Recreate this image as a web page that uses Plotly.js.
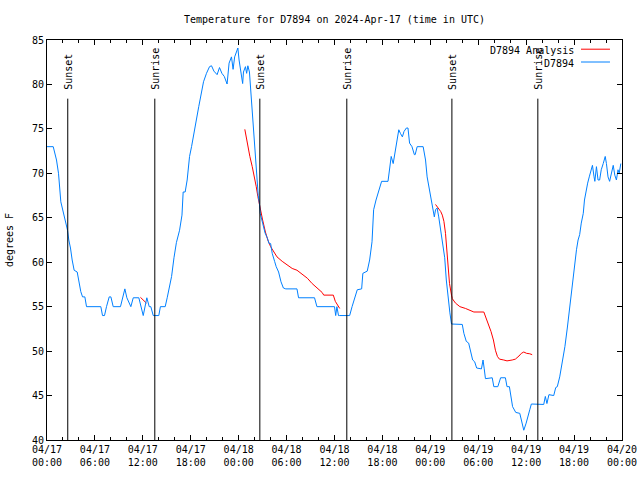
<!DOCTYPE html>
<html>
<head>
<meta charset="utf-8">
<script src="https://cdn.plot.ly/plotly-3.0.1.min.js"></script>
<style>html,body{margin:0;padding:0;background:#fff}</style>
</head>
<body>
<div id="chart" style="width:640px;height:480px"></div>
<script>
// Hours since 2024-04-17 00:00 UTC
const obsHours = [0,0.78,1.19,1.44,1.73,2.03,2.32,2.57,2.73,2.94,3.15,3.4,3.78,3.99,4.23,4.45,4.74,4.95,6.74,6.95,7.2,7.45,7.6,7.79,8.0,8.29,9.2,9.45,9.75,10.0,10.3,10.5,10.8,11.5,12.05,12.5,12.8,13.0,13.3,14.0,14.2,14.8,15.05,15.3,15.6,15.9,16.2,16.6,16.9,17.05,17.3,17.55,17.85,18.1,18.4,18.7,19.0,19.3,19.6,19.97,20.35,20.6,20.9,21.3,21.6,21.9,22.2,22.55,22.8,23.1,23.3,23.5,23.7,23.9,24.05,24.2,24.5,24.6,24.85,25.0,25.15,25.35,25.5,25.7,26.0,26.2,26.45,26.6,26.7,27.0,27.3,27.6,27.8,28.0,28.2,28.5,28.7,29.0,29.3,29.6,29.9,31.3,31.5,33.5,33.8,36.0,36.15,36.3,36.5,36.6,37.9,38.2,38.5,38.85,39.4,39.55,40.1,40.4,40.7,40.9,41.2,41.55,41.9,42.7,42.9,43.1,43.35,43.55,43.8,44.05,44.25,44.5,44.7,45.0,45.2,45.4,45.7,46.0,46.1,46.35,47.1,47.4,47.6,47.9,48.15,48.35,48.5,48.65,48.85,49.05,49.3,49.5,49.8,50.0,50.25,50.45,50.65,52.0,52.2,52.5,52.8,53.1,53.3,53.55,53.8,54.4,54.6,54.75,54.9,55.75,55.95,56.45,56.8,57.4,57.6,57.9,58.1,58.3,58.7,59.2,59.4,59.7,60.0,60.25,60.45,60.65,62.2,62.4,62.6,62.85,63.45,63.7,63.9,64.2,64.4,64.6,64.85,65.15,65.4,65.65,65.9,66.1,66.3,66.5,66.7,66.9,67.15,67.3,67.5,67.7,67.9,68.15,68.3,68.5,68.6,68.8,69.0,69.2,69.4,69.65,69.9,70.05,70.25,70.45,70.7,70.9,71.1,71.3,71.5,71.65,71.85];
const obsTempF = [73,73,71.5,70.0,66.8,65.7,64.4,63.6,62.5,61.6,60.25,59.1,58.9,57.8,56.7,56.1,56.1,55,55,54,54,55,55.6,56.1,56.1,55,55,56,57,56,55.5,55,56,56,54,56,55,55,54,54,55,55,56,57.1,58.4,60.5,62.2,63.6,65.3,67.9,67.9,69.25,71.9,73.0,74.3,76.0,77.5,79.0,80.3,81.25,82.0,82.1,81.5,81.1,81.9,81.25,80.9,80.05,82.4,83.1,81.7,83.1,83.5,84.1,82.75,81.8,80.1,81.4,82.0,81.25,82.1,81.4,79.4,77.1,73.75,70.4,67.5,66.6,65.5,64.4,63.3,62.7,62.1,62.1,61.0,60.1,59.5,58.9,57.8,57.1,57,57,56,56,55,55,54,55,54,54,54,55,56,56.9,57,58.75,59.0,60.25,62.3,65.9,67.0,68.1,69.1,69.1,70.75,71.9,71.1,72.25,73.4,74.9,74.5,74.1,74.7,75.1,75.1,73.4,73.0,72.1,72.1,73,73,71.5,69.6,68.1,67.0,65.9,65.1,65.9,66.1,65.1,63.6,62.5,60.5,58.0,55.6,54.3,53.05,53,52.0,51.1,50.9,49.75,49.0,48.8,48.1,48,49.0,48,46.9,47,46,46,47,47,46,46,44.9,43.75,43.1,43,42.25,41.1,41.9,42.6,43.4,44.05,44,44.9,44.1,45.1,45,45.9,46,47.1,48.1,49.2,50.5,52.6,54.6,56.1,58.75,60.25,61.4,62.5,63.1,64.4,65.5,67,68.1,68.9,69.6,70.6,70.9,69.6,69.1,70.75,69.25,69.25,70.4,71.1,71.9,71.1,69.6,69.1,70.0,70.9,69.8,69.25,70.4,70.0,71.1];

const anaHours = [11.7,12.45,null,24.77,25.07,25.4,25.7,26.0,26.2,26.4,26.65,26.7,27.0,27.35,27.65,28.0,28.4,28.8,29.45,30.1,30.7,31.3,31.95,32.6,33.2,33.85,34.45,34.65,35.85,36.1,36.45,36.65,null,48.65,49.0,49.3,49.5,49.7,49.9,50.0,50.2,50.4,50.65,50.75,51.15,51.7,52.4,53.0,53.45,54.7,55.0,55.3,55.6,55.9,56.15,56.4,56.65,57.2,57.6,58.25,58.65,59.1,59.4,59.7,60.05,60.45,60.75];
const anaTempF = [56.05,55.4,null,74.95,73.4,71.9,70.75,69.6,68.5,67.4,66.25,65.9,64.75,63.4,62.5,61.75,61.2,60.6,60.1,59.7,59.3,59.1,58.7,58.2,57.6,57.1,56.6,56.3,56.3,55.6,55.0,54.8,null,66.5,66.1,65.7,65.3,64.6,63.25,62.1,59.9,57.6,56.3,55.9,55.4,55.0,54.8,54.55,54.4,54.4,53.7,52.9,52.2,51.25,50.1,49.4,49.1,49.0,48.9,49.0,49.1,49.45,49.75,49.9,49.75,49.7,49.6];

const sunHours = [2.6,13.5,26.65,37.54,50.7,61.46];
const sunLabels = ['Sunset','Sunrise','Sunset','Sunrise','Sunset','Sunrise'];

const xTickVals = [0,6,12,18,24,30,36,42,48,54,60,66,72];
const xTickText = ['04/17<br>00:00','04/17<br>06:00','04/17<br>12:00','04/17<br>18:00','04/18<br>00:00','04/18<br>06:00','04/18<br>12:00','04/18<br>18:00','04/19<br>00:00','04/19<br>06:00','04/19<br>12:00','04/19<br>18:00','04/20<br>00:00'];

const seriesNames = ['D7894 Analysis','D7894'];
const seriesColors = ['#ff0000','#0080ff'];

const FONT = 'DejaVu Sans Mono, monospace';

const traces = [
  {x: anaHours, y: anaTempF, type:'scatter', mode:'lines', name: seriesNames[0],
   line:{color:seriesColors[0], width:1}, connectgaps:false, hoverinfo:'skip'},
  {x: obsHours, y: obsTempF, type:'scatter', mode:'lines', name: seriesNames[1],
   line:{color:seriesColors[1], width:1}, hoverinfo:'skip'}
];

const shapes = [];
const annotations = [];
sunHours.forEach((t,i)=>{
  shapes.push({type:'line', xref:'x', yref:'y', x0:t, x1:t, y0:40, y1:78.4,
    line:{color:'#000', width:1}});
  annotations.push({xref:'x', yref:'y', x:t, y:79.15, text:sunLabels[i], textangle:-90,
    showarrow:false, xanchor:'center', yanchor:'bottom', font:{family:FONT,size:10,color:'#000'}});
});

// legend (gnuplot style: text right-aligned, sample line at right)
const legY = [0.974, 0.942];
seriesNames.forEach((n,i)=>{
  annotations.push({xref:'paper', yref:'paper', x:0.9200, y:legY[i], text:n, showarrow:false,
    xanchor:'right', yanchor:'middle', font:{family:FONT,size:10,color:'#000'}});
  shapes.push({type:'line', xref:'paper', yref:'paper', x0:0.9287, x1:0.9791, y0:legY[i]+0.003, y1:legY[i]+0.003,
    line:{color:seriesColors[i], width:1}});
});

const layout = {
  width:640, height:480,
  margin:{l:47, r:18, t:40, b:40, pad:0},
  paper_bgcolor:'#fff', plot_bgcolor:'#fff',
  font:{family:FONT, size:10, color:'#000'},
  showlegend:false,
  title:{text:'Temperature for D7894 on 2024-Apr-17 (time in UTC)', font:{family:FONT,size:10,color:'#000'},
    xref:'paper', x:0.5, xanchor:'center', yref:'container', y:1-19/480, yanchor:'middle'},
  xaxis:{range:[0,72], tickmode:'array', tickvals:xTickVals, ticktext:xTickText,
    ticks:'inside', ticklen:5, tickwidth:1, tickcolor:'#000',
    showline:true, linecolor:'#000', linewidth:1, mirror:'allticks',
    showgrid:false, zeroline:false, tickfont:{family:FONT,size:10,color:'#000'},
    minor:{tickmode:'linear', tick0:0, dtick:2, ticks:'inside', ticklen:3, tickcolor:'#000', showgrid:false}},
  yaxis:{range:[40,85], tickmode:'linear', tick0:40, dtick:5,
    ticks:'inside', ticklen:5, tickwidth:1, tickcolor:'#000',
    showline:true, linecolor:'#000', linewidth:1, mirror:'allticks',
    showgrid:false, zeroline:false, tickfont:{family:FONT,size:10,color:'#000'},
    title:{text:'degrees F', font:{family:FONT,size:10,color:'#000'}, standoff:16}},
  shapes:shapes, annotations:annotations
};

Plotly.newPlot('chart', traces, layout, {staticPlot:true, displayModeBar:false});
</script>
</body>
</html>
